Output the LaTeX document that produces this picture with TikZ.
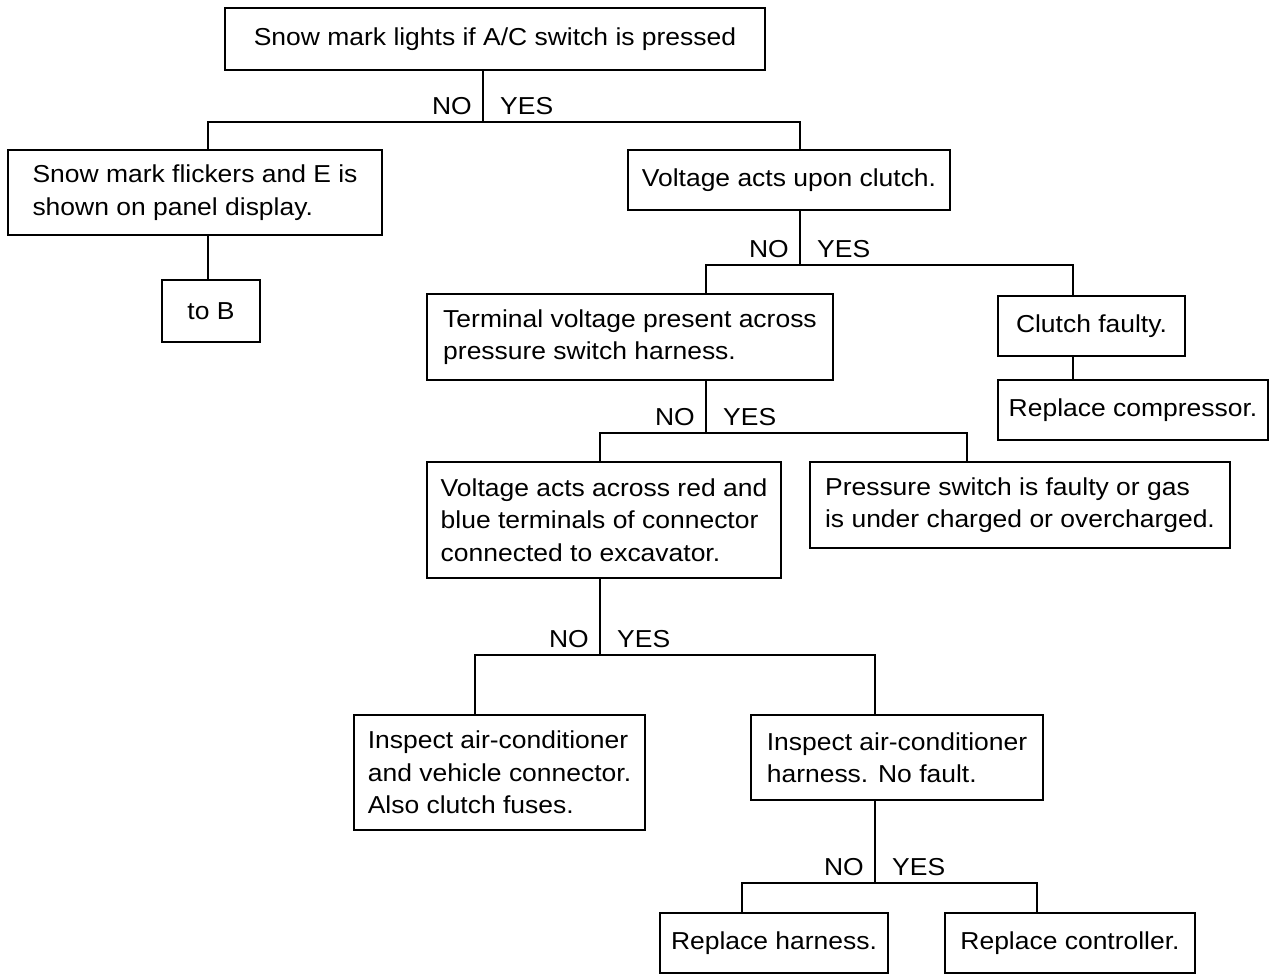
\documentclass[tikz,border=0pt]{standalone}
\usepackage{fontspec}
\setmainfont{Liberation Sans}[FakeStretch=1.08]
\begin{document}
\begin{tikzpicture}[x=1pt,y=-1pt,
  box/.style={draw, line width=1.6pt, inner sep=0pt, align=left,
    font=\fontsize{24.5}{32.5}\selectfont},
  link/.style={line width=1.5pt},
  ans/.style={inner sep=0pt, font=\fontsize{24.5}{28}\selectfont}]
\useasboundingbox (0,0) rectangle (1275,975);

% decision and action boxes
\node[box, minimum width=540pt, minimum height=62pt] (top) at (495,39) {Snow mark lights if A/C switch is pressed};
\node[box, minimum width=374pt, minimum height=85pt] (flick) at (195,192.5) {Snow mark flickers and E is\\shown on panel display.};
\node[box, minimum width=98pt, minimum height=62pt] (toB) at (211,311) {to B};
\node[box, minimum width=322pt, minimum height=60pt] (clutchV) at (789,180) {Voltage acts upon clutch.};
\node[box, minimum width=406pt, minimum height=86pt] (term) at (630,337) {Terminal voltage present across\\pressure switch harness.};
\node[box, minimum width=187pt, minimum height=60pt] (cfault) at (1091.5,326) {Clutch faulty.};
\node[box, minimum width=270pt, minimum height=60pt] (rcomp) at (1133,410) {Replace compressor.};
\node[box, minimum width=354pt, minimum height=116pt] (across) at (604,520) {Voltage acts across red and\\blue terminals of connector\\connected to excavator.};
\node[box, minimum width=420pt, minimum height=86pt] (pswitch) at (1020,505) {Pressure switch is faulty or gas\\is under charged or overcharged.};
\node[box, minimum width=291pt, minimum height=115pt] (inspA) at (499.5,772.5) {Inspect air-conditioner\\and vehicle connector.\\Also clutch fuses.};
\node[box, minimum width=292pt, minimum height=85pt] (inspB) at (897,757.5) {Inspect air-conditioner\\harness. No fault.};
\node[box, minimum width=228pt, minimum height=60pt] (rharn) at (774,943) {Replace harness.};
\node[box, minimum width=250pt, minimum height=60pt] (rctrl) at (1070,943) {Replace controller.};

% branch points: stem, left drop, right drop
\coordinate (j1) at (483,122);  \coordinate (j1l) at (208,122);  \coordinate (j1r) at (800,122);
\coordinate (j2) at (800,265);  \coordinate (j2l) at (706,265);  \coordinate (j2r) at (1073,265);
\coordinate (j3) at (706,433);  \coordinate (j3l) at (600,433);  \coordinate (j3r) at (967,433);
\coordinate (j4) at (600,655);  \coordinate (j4l) at (475,655);  \coordinate (j4r) at (875,655);
\coordinate (j5) at (875,883);  \coordinate (j5l) at (742,883);  \coordinate (j5r) at (1037,883);

% branches
\draw[link] (top.south -| j1) -- (j1);
\draw[link] (j1l |- flick.north) -- (j1l) -- (j1r) -- (j1r |- clutchV.north);
\draw[link] (j1l |- flick.south) -- (j1l |- toB.north);

\draw[link] (clutchV.south -| j2) -- (j2);
\draw[link] (j2l |- term.north) -- (j2l) -- (j2r) -- (j2r |- cfault.north);
\draw[link] (j2r |- cfault.south) -- (j2r |- rcomp.north);

\draw[link] (term.south -| j3) -- (j3);
\draw[link] (j3l |- across.north) -- (j3l) -- (j3r) -- (j3r |- pswitch.north);

\draw[link] (across.south -| j4) -- (j4);
\draw[link] (j4l |- inspA.north) -- (j4l) -- (j4r) -- (j4r |- inspB.north);

\draw[link] (inspB.south -| j5) -- (j5);
\draw[link] (j5l |- rharn.north) -- (j5l) -- (j5r) -- (j5r |- rctrl.north);

% answer labels beside each stem
\foreach \j in {1,...,5}{
  \node[ans, anchor=base east] (no\j) at ([xshift=-11pt,yshift=8pt]j\j) {NO};
  \node[ans, anchor=base west] (yes\j) at ([xshift=17pt,yshift=8pt]j\j) {YES};
}
\end{tikzpicture}
\end{document}
